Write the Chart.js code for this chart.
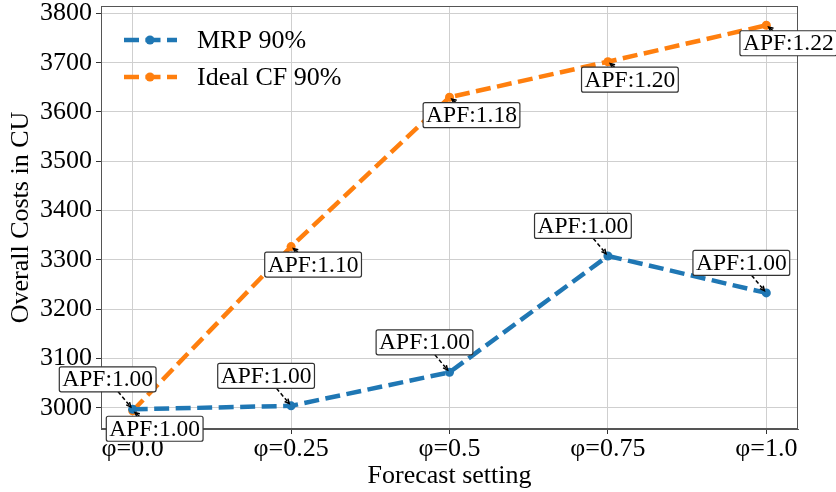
<!DOCTYPE html>
<html>
<head>
<meta charset="utf-8">
<title>Overall Costs</title>
<script src="https://cdn.jsdelivr.net/npm/chart.js"></script>
<style>
  body { margin: 0; background: #fff; }
  .chart-container { width: 836px; height: 492px; }
</style>
</head>
<body>
<div class="chart-container"><canvas id="costChart"></canvas></div>
<script>
  // data
  var xLabels = ['φ=0.0', 'φ=0.25', 'φ=0.5', 'φ=0.75', 'φ=1.0'];
  var yTicks = [3000, 3100, 3200, 3300, 3400, 3500, 3600, 3700, 3800];
  var mrpCost = [2997, 3004, 3072, 3308, 3233];
  var idealCost = [2994, 3327, 3630, 3702, 3776];
  var mrpApf = ['1.00', '1.00', '1.00', '1.00', '1.00'];
  var idealApf = ['1.00', '1.10', '1.18', '1.20', '1.22'];

  var serif = 'Liberation Serif';

  function toPoints(values) {
    return values.map(function (v, i) { return { x: i, y: v }; });
  }

  // legend, frame and APF boxes
  var apfPlugin = {
    id: 'apf',
    afterDraw: function (chart) {
      var ctx = chart.ctx, area = chart.chartArea;
      ctx.save();
      ctx.strokeStyle = '#555';
      ctx.lineWidth = 1;
      ctx.strokeRect(area.left + 0.5, area.top + 0.5, area.right - area.left - 1, area.bottom - area.top - 1);

      // legend
      chart.data.datasets.forEach(function (ds, di) {
        var y = area.top + 34 + di * 37;
        var x0 = area.left + 23;
        ctx.strokeStyle = ds.borderColor;
        ctx.lineWidth = ds.borderWidth;
        ctx.setLineDash(ds.borderDash);
        ctx.beginPath();
        ctx.moveTo(x0, y);
        ctx.lineTo(x0 + 53, y);
        ctx.stroke();
        ctx.setLineDash([]);
        ctx.fillStyle = ds.borderColor;
        ctx.beginPath();
        ctx.arc(x0 + 26, y, ds.pointRadius, 0, Math.PI * 2);
        ctx.fill();
        ctx.fillStyle = '#000';
        ctx.font = '26px "' + serif + '"';
        ctx.textBaseline = 'middle';
        ctx.textAlign = 'left';
        ctx.fillText(ds.label, area.left + 96, y + 1);
      });

      // annotations
      ctx.font = '23.5px "' + serif + '"';
      chart.data.datasets.forEach(function (ds, di) {
        var meta = chart.getDatasetMeta(di);
        meta.data.forEach(function (pt, i) {
          var px = pt.x, py = pt.y;
          var cx = px + ds.apfOffset[0], cy = py + ds.apfOffset[1];
          var text = 'APF:' + ds.apf[i];
          var w = ctx.measureText(text).width + 6, h = 25;
          var dx = px - cx, dy = py - cy;
          var t = Math.min(w / 2 / Math.abs(dx), h / 2 / Math.abs(dy));
          if (t < 1) {
            var sx = cx + dx * t, sy = cy + dy * t;
            var len = Math.sqrt(dx * dx + dy * dy);
            var ux = dx / len, uy = dy / len;
            var ex = px - ux * 3, ey = py - uy * 3;
            ctx.strokeStyle = '#000';
            ctx.lineWidth = 1.5;
            ctx.setLineDash([4, 2.5]);
            ctx.beginPath();
            ctx.moveTo(sx, sy);
            ctx.lineTo(ex, ey);
            ctx.stroke();
            ctx.setLineDash([]);
            var a = Math.atan2(uy, ux);
            ctx.beginPath();
            ctx.moveTo(ex - 5 * Math.cos(a - 0.45), ey - 5 * Math.sin(a - 0.45));
            ctx.lineTo(ex, ey);
            ctx.lineTo(ex - 5 * Math.cos(a + 0.45), ey - 5 * Math.sin(a + 0.45));
            ctx.stroke();
          }
          ctx.fillStyle = '#fff';
          ctx.strokeStyle = '#333';
          ctx.lineWidth = 1.2;
          ctx.beginPath();
          ctx.roundRect(cx - w / 2, cy - h / 2, w, h, 2);
          ctx.fill();
          ctx.stroke();
          ctx.fillStyle = '#000';
          ctx.textAlign = 'center';
          ctx.textBaseline = 'middle';
          ctx.fillText(text, cx, cy + 1);
        });
      });
      ctx.restore();
    }
  };

  var costChart = new Chart(document.getElementById('costChart'), {
    type: 'line',
    data: {
      datasets: [
        {
          label: 'MRP 90%',
          data: toPoints(mrpCost),
          apf: mrpApf,
          apfOffset: [-25, -30],
          borderColor: '#1f77b4',
          backgroundColor: '#1f77b4',
          borderWidth: 4.5,
          borderDash: [15, 6.5],
          pointRadius: 4.5,
          pointBorderWidth: 0,
        },
        {
          label: 'Ideal CF 90%',
          data: toPoints(idealCost),
          apf: idealApf,
          apfOffset: [22, 18],
          borderColor: '#ff7f0e',
          backgroundColor: '#ff7f0e',
          borderWidth: 4.5,
          borderDash: [15, 6.5],
          pointRadius: 4.5,
          pointBorderWidth: 0,
        },
      ],
    },
    options: {
      responsive: true,
      maintainAspectRatio: false,
      animation: false,
      layout: { padding: { top: 6, right: 38, left: 0, bottom: 0 } },
      plugins: { legend: { display: false }, tooltip: { enabled: false } },
      scales: {
        x: {
          type: 'linear',
          min: -0.2,
          max: 4.2,
          afterBuildTicks: function (s) { s.ticks = xLabels.map(function (_, i) { return { value: i }; }); },
          afterFit: function (s) { s.height = 63; s.paddingLeft = 0; s.paddingRight = 0; },
          ticks: {
            font: { family: serif, size: 26 },
            color: '#000',
            padding: 0,
            maxRotation: 0,
            callback: function (v) { return xLabels[v]; },
          },
          grid: { color: '#cfcfcf', tickColor: '#333', tickLength: 5 },
          border: { color: '#555' },
          title: { display: true, text: 'Forecast setting', font: { family: serif, size: 26 }, color: '#000', padding: { top: 0, bottom: 0 } },
        },
        y: {
          min: 2957,
          max: 3815,
          afterBuildTicks: function (s) { s.ticks = yTicks.map(function (v) { return { value: v }; }); },
          afterFit: function (s) { s.width = 101; s.paddingTop = 0; s.paddingBottom = 0; },
          ticks: {
            font: { family: serif, size: 26 },
            color: '#000',
            padding: 4,
            callback: function (v) { return String(v); },
          },
          grid: { color: '#cfcfcf', tickColor: '#333', tickLength: 5 },
          border: { color: '#555' },
          title: { display: true, text: 'Overall Costs in CU', font: { family: serif, size: 26 }, color: '#000', padding: { top: 6, bottom: 0 } },
        },
      },
    },
    plugins: [apfPlugin],
  });
</script>
</body>
</html>
